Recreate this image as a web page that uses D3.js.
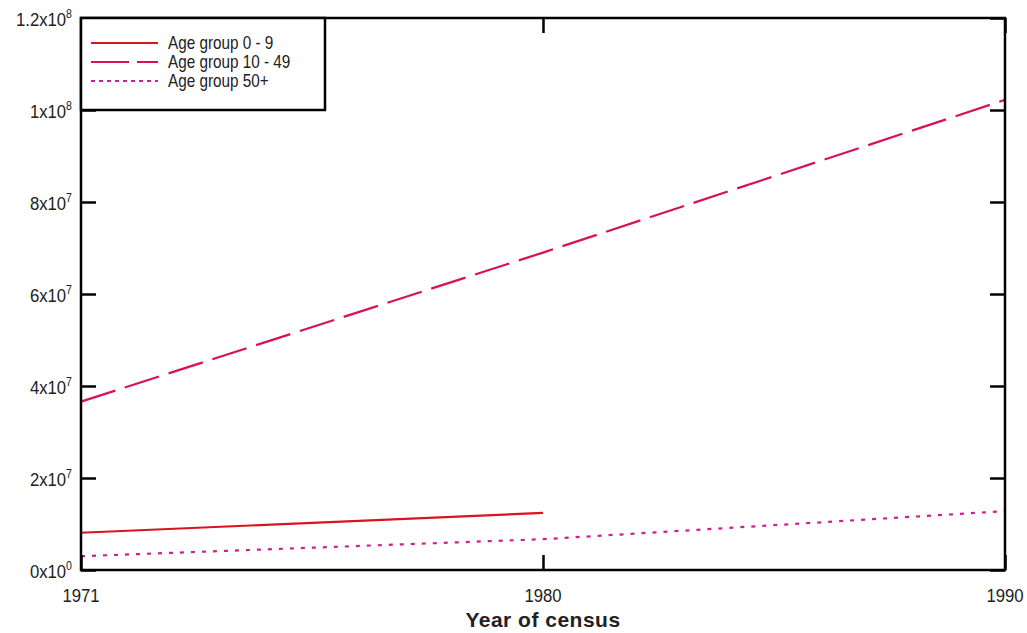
<!DOCTYPE html>
<html>
<head>
<meta charset="utf-8">
<script src="https://cdn.jsdelivr.net/npm/d3@7"></script>
<style>
  body { margin: 0; background: #fff; }
  text { font-family: "Liberation Sans", Arial, sans-serif; }
</style>
</head>
<body>
<div id="chart"></div>
<script>
// census years (equally spaced on the axis)
const years = ["1971", "1980", "1990"];
const yTicks = [0, 2e7, 4e7, 6e7, 8e7, 1e8, 1.2e8];

const age0to9 = [8.1e6, 1.24e7];
const age10to49 = [3.66e7, 6.9e7, 1.022e8];
const age50plus = [3.0e6, 6.7e6, 1.28e7];

const seriesNames = ["Age group 0 - 9", "Age group 10 - 49", "Age group 50+"];

function drawChart() {
    const W = 1027, H = 633;
    const margin = { top: 18, right: 22, bottom: 63, left: 81 },
        width = W - margin.left - margin.right,
        height = H - margin.top - margin.bottom;

    const svg = d3.select("#chart")
        .append("svg")
        .attr("width", W)
        .attr("height", H)
        .append("g")
        .attr("transform", `translate(${margin.left},${margin.top})`);

    const x = d3.scalePoint().domain(years).range([0, width]);
    const y = d3.scaleLinear().domain([0, 1.2e8]).range([height, 0]);

    const series = [
        { name: seriesNames[0], values: age0to9, color: "#d8141e", dash: null, legDash: null },
        { name: seriesNames[1], values: age10to49, color: "#d8125a", dash: "36,10", legDash: "38,8" },
        { name: seriesNames[2], values: age50plus, color: "#cc1f96", dash: "4,7", legDash: "4,4" }
    ];

    const line = d3.line()
        .x((d, i) => x(years[i]))
        .y(d => y(d));

    series.forEach(s => {
        svg.append("path")
            .datum(s.values)
            .attr("fill", "none")
            .attr("stroke", s.color)
            .attr("stroke-width", 2.2)
            .attr("stroke-dasharray", s.dash)
            .attr("d", line);
    });

    // ticks on all four sides, pointing inward
    const tickLen = 15;
    const axisL = svg.append("g").call(d3.axisLeft(y).tickValues(yTicks).tickSize(-tickLen).tickFormat(""));
    const axisR = svg.append("g").attr("transform", `translate(${width},0)`)
        .call(d3.axisRight(y).tickValues(yTicks).tickSize(-tickLen).tickFormat(""));
    const axisB = svg.append("g").attr("transform", `translate(0,${height})`)
        .call(d3.axisBottom(x).tickSize(-tickLen).tickFormat(""));
    const axisT = svg.append("g")
        .call(d3.axisTop(x).tickSize(-tickLen).tickFormat(""));
    [axisL, axisR, axisB, axisT].forEach(a => {
        a.select(".domain").remove();
        a.selectAll("line").attr("stroke", "#000").attr("stroke-width", 2.5);
    });

    // frame
    svg.append("rect")
        .attr("width", width)
        .attr("height", height)
        .attr("fill", "none")
        .attr("stroke", "#000")
        .attr("stroke-width", 2.5);

    // the original font is tall and narrow, so squeeze text a bit
    const sx = 0.88;

    // y labels like 4x10^7
    yTicks.forEach(v => {
        const exp = v === 0 ? 0 : Math.floor(Math.log10(v));
        const mant = v === 0 ? 0 : +(v / Math.pow(10, exp)).toFixed(1);
        const t = svg.append("text")
            .attr("transform", `translate(-9,${y(v) + 8}) scale(${sx},1)`)
            .attr("text-anchor", "end")
            .style("font-size", "19px")
            .attr("fill", "#222");
        t.append("tspan").text(mant + "x10");
        t.append("tspan").attr("dy", -8).style("font-size", "12px").text(exp);
    });

    // x labels
    years.forEach(yr => {
        svg.append("text")
            .attr("transform", `translate(${x(yr)},${height + 32}) scale(${sx},1)`)
            .attr("text-anchor", "middle")
            .style("font-size", "19px")
            .attr("fill", "#222")
            .text(yr);
    });

    svg.append("text")
        .attr("x", width / 2)
        .attr("y", height + 57)
        .attr("text-anchor", "middle")
        .style("font-size", "21px")
        .style("font-weight", "bold")
        .style("letter-spacing", "0.5px")
        .attr("fill", "#222")
        .text("Year of census");

    // legend
    const legend = svg.append("g");
    legend.append("rect")
        .attr("width", 244)
        .attr("height", 92)
        .attr("fill", "#fff")
        .attr("stroke", "#000")
        .attr("stroke-width", 2.5);

    series.forEach((s, i) => {
        const ly = 25 + i * 19;
        legend.append("line")
            .attr("x1", 10).attr("x2", 77)
            .attr("y1", ly).attr("y2", ly)
            .attr("stroke", s.color)
            .attr("stroke-width", 2.2)
            .attr("stroke-dasharray", s.legDash);
        legend.append("text")
            .attr("transform", `translate(87,${ly + 6}) scale(0.85,1)`)
            .style("font-size", "18px")
            .attr("fill", "#222")
            .text(s.name);
    });
}
drawChart();
</script>
</body>
</html>
